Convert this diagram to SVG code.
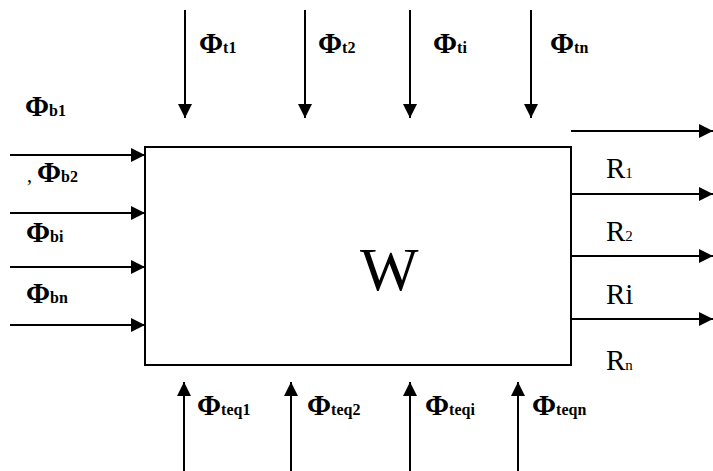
<svg xmlns="http://www.w3.org/2000/svg" width="713" height="471" viewBox="0 0 713 471">
<style>
.ln{stroke:#000;stroke-width:2;fill:none}
.t{font-family:"Liberation Serif","Times New Roman",serif;font-size:29px;font-weight:bold;fill:#000}
.s{font-size:16px;font-weight:bold}
.c{font-size:20px;font-weight:normal}
.r{font-family:"Liberation Serif","Times New Roman",serif;font-size:29px;fill:#000}
.rs{font-size:15px}
</style>
<defs>
<marker id="ah" viewBox="0 0 10 10" refX="10" refY="5" markerWidth="14" markerHeight="14" markerUnits="userSpaceOnUse" orient="auto">
<path d="M0,0 L10,5 L0,10 z" fill="#000"/>
</marker>
</defs>
<g id="box">
<rect x="145" y="147" width="426" height="218" class="ln"/>
<text x="360" y="290" font-family="Liberation Serif,Times New Roman,serif" font-size="62" fill="#000">W</text>
</g>
<g id="connectors">
<line x1="185" y1="10" x2="185" y2="118" class="ln" marker-end="url(#ah)"/>
<line x1="305" y1="10" x2="305" y2="118" class="ln" marker-end="url(#ah)"/>
<line x1="410" y1="10" x2="410" y2="118" class="ln" marker-end="url(#ah)"/>
<line x1="531" y1="10" x2="531" y2="118" class="ln" marker-end="url(#ah)"/>
<line x1="10" y1="155" x2="145" y2="155" class="ln" marker-end="url(#ah)"/>
<line x1="10" y1="213" x2="145" y2="213" class="ln" marker-end="url(#ah)"/>
<line x1="10" y1="267" x2="145" y2="267" class="ln" marker-end="url(#ah)"/>
<line x1="10" y1="325" x2="145" y2="325" class="ln" marker-end="url(#ah)"/>
<line x1="571" y1="131" x2="713" y2="131" class="ln" marker-end="url(#ah)"/>
<line x1="571" y1="194" x2="713" y2="194" class="ln" marker-end="url(#ah)"/>
<line x1="571" y1="256" x2="713" y2="256" class="ln" marker-end="url(#ah)"/>
<line x1="571" y1="319" x2="713" y2="319" class="ln" marker-end="url(#ah)"/>
<line x1="184" y1="471" x2="184" y2="382" class="ln" marker-end="url(#ah)"/>
<line x1="291" y1="471" x2="291" y2="382" class="ln" marker-end="url(#ah)"/>
<line x1="410" y1="471" x2="410" y2="382" class="ln" marker-end="url(#ah)"/>
<line x1="518" y1="471" x2="518" y2="382" class="ln" marker-end="url(#ah)"/>
</g>
<g id="labels">
<text class="t" x="199" y="53">Φ<tspan class="s">t1</tspan></text>
<text class="t" x="318" y="53">Φ<tspan class="s">t2</tspan></text>
<text class="t" x="433" y="53">Φ<tspan class="s">ti</tspan></text>
<text class="t" x="550" y="53">Φ<tspan class="s">tn</tspan></text>
<text class="t" x="25" y="116">Φ<tspan class="s">b1</tspan></text>
<text class="t" x="27" y="182"><tspan class="c">, </tspan>Φ<tspan class="s">b2</tspan></text>
<text class="t" x="26" y="242">Φ<tspan class="s">bi</tspan></text>
<text class="t" x="26" y="303">Φ<tspan class="s">bn</tspan></text>
<text class="r" x="606" y="178">R<tspan class="rs">1</tspan></text>
<text class="r" x="606" y="241">R<tspan class="rs">2</tspan></text>
<text class="r" x="606" y="304">Ri</text>
<text class="r" x="606" y="370">R<tspan class="rs">n</tspan></text>
<text class="t" x="197" y="415">Φ<tspan class="s">teq1</tspan></text>
<text class="t" x="307" y="415">Φ<tspan class="s">teq2</tspan></text>
<text class="t" x="425" y="415">Φ<tspan class="s">teqi</tspan></text>
<text class="t" x="532" y="415">Φ<tspan class="s">teqn</tspan></text>
</g>
</svg>
